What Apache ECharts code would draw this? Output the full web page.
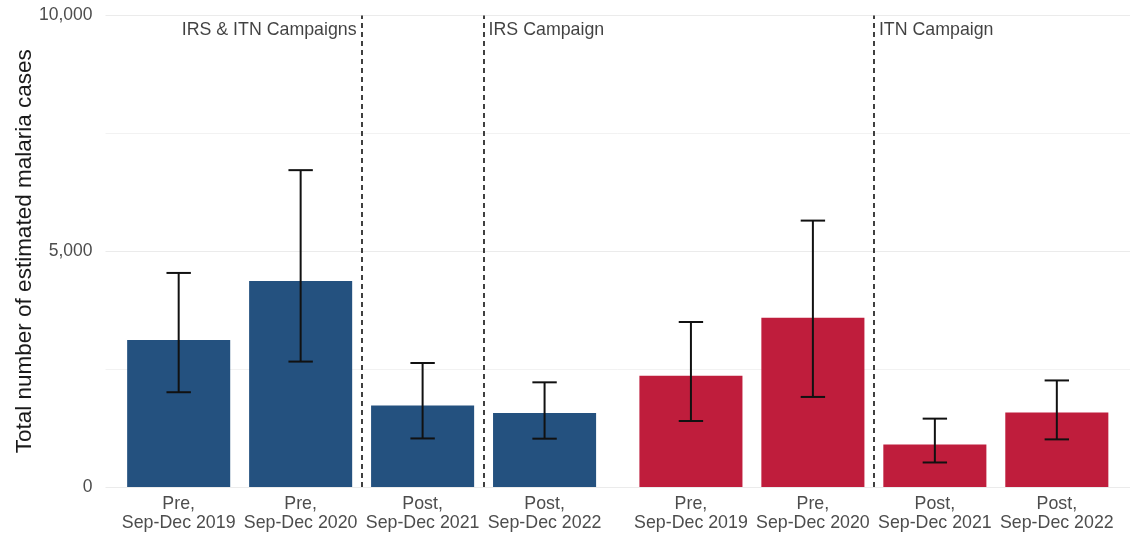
<!DOCTYPE html>
<html>
<head>
<meta charset="utf-8">
<title>Estimated malaria cases</title>
<script src="https://cdn.jsdelivr.net/npm/echarts@6/dist/echarts.min.js"></script>
<style>
  html, body { margin: 0; padding: 0; background: #ffffff; }
  #chart { width: 1130px; height: 533px; }
</style>
</head>
<body>
<div id="chart"></div>
<script>
// Period labels shared by both panels
const periods = ['Pre,\nSep-Dec 2019', 'Pre,\nSep-Dec 2020', 'Post,\nSep-Dec 2021', 'Post,\nSep-Dec 2022'];

// Left panel (blue): estimate with lower / upper interval
const blueCases = [3120, 4370, 1730, 1570];
const blueLower = [2010, 2660, 1030, 1025];
const blueUpper = [4540, 6720, 2630, 2220];

// Right panel (red): estimate with lower / upper interval
const redCases = [2360, 3590, 900, 1580];
const redLower = [1400, 1910, 520, 1010];
const redUpper = [3500, 5650, 1450, 2260];

// Campaign annotations: text, and the gap (period index) they sit after
const campaignLabels = ['IRS & ITN Campaigns', 'IRS Campaign', 'ITN Campaign'];
const campaignPanel = [0, 0, 1];
const campaignAfter = [1, 2, 1];
const campaignAlign = ['right', 'left', 'left'];

// Y axis ticks
const yTicks = [0, 5000, 10000];

const FONT = "'Liberation Sans', Arial, Helvetica, sans-serif";
const BLUE = '#24517f';
const RED = '#bf1d3c';

// Each facet panel holds one slot per period plus 0.6 of padding on both sides
const PAD = 0.6;
const PANEL_W = (periods.length - 1) + PAD * 2; // 4.2 units
const xPos = (panel, i) => panel * PANEL_W + PAD + i;

const panels = [
  { cases: blueCases, lower: blueLower, upper: blueUpper, color: BLUE },
  { cases: redCases, lower: redLower, upper: redUpper, color: RED }
];

const barData = [];
const errData = [];
const tickValues = [];
panels.forEach((p, pi) => {
  p.cases.forEach((v, i) => {
    const x = xPos(pi, i);
    tickValues.push(x);
    barData.push({ value: [x, v], itemStyle: { color: p.color } });
    errData.push([x, p.lower[i], p.upper[i]]);
  });
});

const boundaryX = campaignAfter.map((a, k) => xPos(campaignPanel[k], a) + 0.5);

const BAR_HALF = 0.4225;
const CAP_HALF = 0.1;

const chart = echarts.init(document.getElementById('chart'), null, { renderer: 'canvas' });

chart.setOption({
  backgroundColor: '#ffffff',
  animation: false,
  grid: { left: 105.5, right: 0, top: 15.5, bottom: 46, containLabel: false, outerBoundsMode: 'none' },
  xAxis: {
    type: 'value',
    min: 0,
    max: PANEL_W * 2,
    axisLine: { show: false },
    axisTick: { show: false },
    splitLine: { show: false },
    axisLabel: {
      customValues: tickValues,
      showMinLabel: true,
      showMaxLabel: true,
      hideOverlap: false,
      formatter: function (val) {
        let best = 0;
        tickValues.forEach((t, k) => { if (Math.abs(t - val) < Math.abs(tickValues[best] - val)) best = k; });
        return periods[best % periods.length];
      },
      color: '#4d4d4d',
      fontFamily: FONT,
      fontSize: 17.8,
      lineHeight: 19,
      margin: 8
    }
  },
  yAxis: {
    type: 'value',
    min: 0,
    max: 10000,
    interval: 5000,
    name: 'Total number of estimated malaria cases',
    nameLocation: 'middle',
    nameGap: 69,
    nameMoveOverlap: false,
    nameTextStyle: { color: '#1a1a1a', fontFamily: FONT, fontSize: 22.5 },
    axisLine: { show: false },
    axisTick: { show: false },
    axisLabel: {
      color: '#4d4d4d',
      fontFamily: FONT,
      fontSize: 17.5,
      margin: 13,
      formatter: v => yTicks.includes(v) ? v.toLocaleString('en-US') : ''
    },
    splitLine: { show: true, lineStyle: { color: '#ebebeb', width: 1.2 } },
    minorTick: { show: false, splitNumber: 2 },
    minorSplitLine: { show: true, lineStyle: { color: '#f2f2f2', width: 1 } }
  },
  series: [
    {
      type: 'custom',
      name: 'cases',
      data: barData,
      encode: { x: 0, y: 1 },
      renderItem: function (params, api) {
        const x = api.value(0);
        const y = api.value(1);
        const a = api.coord([x - BAR_HALF, y]);
        const b = api.coord([x + BAR_HALF, 0]);
        return {
          type: 'rect',
          shape: { x: a[0], y: a[1], width: b[0] - a[0], height: b[1] - a[1] },
          style: { fill: api.visual('color') }
        };
      },
      markLine: {
        silent: true,
        symbol: ['none', 'none'],
        label: { show: false },
        lineStyle: { color: '#111111', type: [5, 4], width: 1.6 },
        data: boundaryX.map(x => ({ xAxis: x }))
      },
      z: 2
    },
    {
      type: 'custom',
      name: 'interval',
      data: errData,
      encode: { x: 0, y: [1, 2] },
      renderItem: function (params, api) {
        const x = api.value(0);
        const lo = api.coord([x, api.value(1)]);
        const hi = api.coord([x, api.value(2)]);
        const capL = api.coord([x - CAP_HALF, 0])[0];
        const capR = api.coord([x + CAP_HALF, 0])[0];
        const st = { stroke: '#111111', lineWidth: 2 };
        return {
          type: 'group',
          children: [
            { type: 'line', shape: { x1: lo[0], y1: lo[1], x2: hi[0], y2: hi[1] }, style: st },
            { type: 'line', shape: { x1: capL, y1: hi[1], x2: capR, y2: hi[1] }, style: st },
            { type: 'line', shape: { x1: capL, y1: lo[1], x2: capR, y2: lo[1] }, style: st }
          ]
        };
      },
      z: 3
    },
    {
      type: 'scatter',
      name: 'campaigns',
      symbolSize: 0,
      silent: true,
      data: campaignLabels.map((t, k) => ({
        value: [boundaryX[k], 9680],
        label: {
          show: true,
          formatter: t,
          position: campaignAlign[k] === 'right' ? 'left' : 'right',
          distance: 5,
          color: '#111111',
          fontFamily: FONT,
          fontSize: 17.8
        }
      })),
      z: 4
    }
  ]
});
</script>
</body>
</html>
